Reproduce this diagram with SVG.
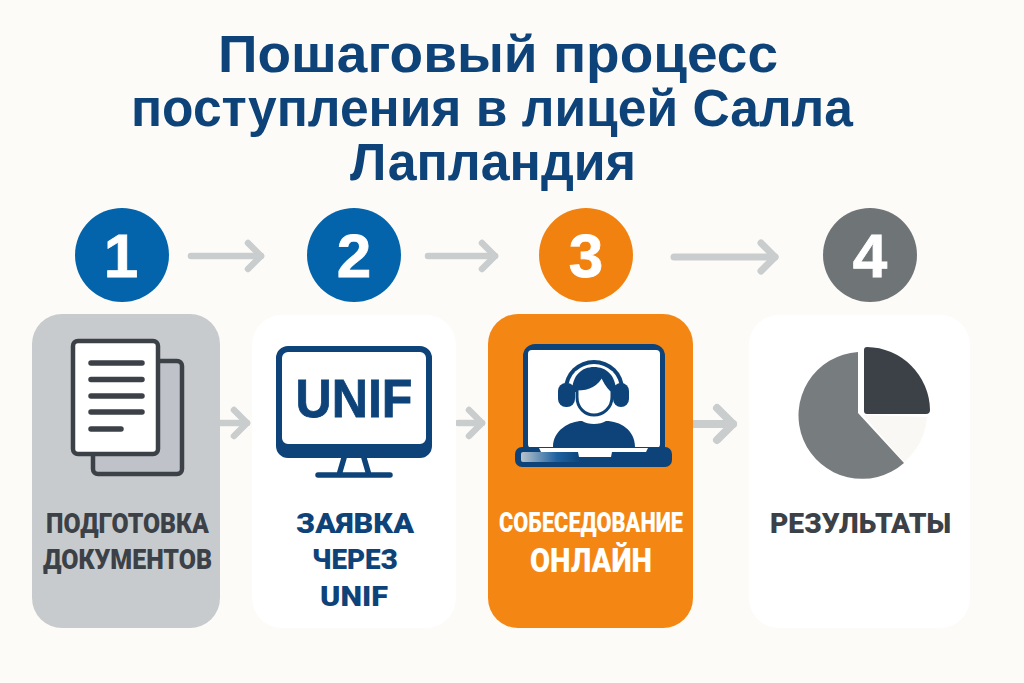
<svg xmlns="http://www.w3.org/2000/svg" width="1024" height="683" viewBox="0 0 1024 683">
<style>
.title{font:bold 51px "Liberation Sans",Arial,sans-serif;fill:#0d4379;text-anchor:middle}
.lab{font-family:Roboto,"Liberation Sans",sans-serif;font-weight:900;text-anchor:middle}
.num{font:bold 62px "Liberation Sans",Arial,sans-serif;fill:#fff;stroke:#fff;stroke-width:.8;text-anchor:middle}
.conn{fill:none;stroke:#c9cdce;stroke-linecap:round;marker-end:url(#ah)}
.navy{fill:#0d4379}.dark{fill:#3c4147}
.ln{stroke:#3c4147;stroke-width:5.5;stroke-linecap:round;fill:none}
</style>
<defs>
<marker id="ah" viewBox="-3 -3 4 6" refX="0" refY="0" markerWidth="4" markerHeight="6" markerUnits="strokeWidth" orient="auto" overflow="visible">
<path d="M-2,-2L0,0L-2,2" fill="none" stroke="#c9cdce" stroke-width="1" stroke-linecap="round" stroke-linejoin="round"/>
</marker>
<linearGradient id="kb" x1="0" x2="1" y1="0" y2="0"><stop offset="0" stop-color="#b9c3cc"/><stop offset=".6" stop-color="#1d62a0"/><stop offset="1" stop-color="#0d4379"/></linearGradient>
</defs>
<rect width="1024" height="683" fill="#fdfbf8"/>
<g id="title">
<text class="title" x="498" y="72" textLength="560" lengthAdjust="spacingAndGlyphs">Пошаговый процесс</text>
<text class="title" x="492" y="126" textLength="722" lengthAdjust="spacingAndGlyphs">поступления в лицей Салла</text>
<text class="title" x="493" y="180" textLength="286" lengthAdjust="spacingAndGlyphs">Лапландия</text>
</g>
<g id="connectors">
<path class="conn" style="stroke-width:6.5" d="M191,256H261"/>
<path class="conn" style="stroke-width:6.5" d="M428,256H495"/>
<path class="conn" style="stroke-width:7" d="M674,257H775"/>
<path class="conn" style="stroke-width:6.5" d="M220,423H247"/>
<path class="conn" style="stroke-width:6.5" d="M458,423H482"/>
<path class="conn" style="stroke-width:8" d="M693,424H733"/>
</g>
<g id="badge-1"><circle cx="122" cy="255" r="47" fill="#0464ab"/><text class="num" x="121" y="277">1</text></g>
<g id="badge-2"><circle cx="354" cy="255" r="47" fill="#0464ab"/><text class="num" x="354" y="277">2</text></g>
<g id="badge-3"><circle cx="586" cy="255" r="47" fill="#f28210"/><text class="num" x="586" y="277">3</text></g>
<g id="badge-4"><circle cx="870" cy="255" r="47" fill="#6f7477"/><text class="num" x="870" y="277">4</text></g>
<g id="step-1">
<rect x="32" y="314" width="188" height="314" rx="30" fill="#c7cbce"/>
<rect x="93" y="361" width="89" height="113" rx="5" fill="#bfc2c8" stroke="#3c4147" stroke-width="4.5"/>
<rect x="73" y="341" width="85" height="113" rx="5" fill="#fff" stroke="#3c4147" stroke-width="4.5"/>
<path class="ln" d="M91,363H142M91,379.5H142M91,396H142M91,412H142M91,429H121"/>
<text class="lab dark" x="127.500" y="533" font-size="28" textLength="163" lengthAdjust="spacingAndGlyphs">ПОДГОТОВКА</text>
<text class="lab dark" x="127.500" y="569" font-size="28" textLength="169" lengthAdjust="spacingAndGlyphs">ДОКУМЕНТОВ</text>
</g>
<g id="step-2">
<rect x="252" y="315" width="204" height="313" rx="30" fill="#fff"/>
<path class="navy" fill-rule="evenodd" d="M288,346H420a12,12 0 0 1 12,12V446a12,12 0 0 1-12,12H288a12,12 0 0 1-12-12V358a12,12 0 0 1 12-12ZM288,352a6,6 0 0 0-6,6V438a6,6 0 0 0 6,6H420a6,6 0 0 0 6-6V358a6,6 0 0 0-6-6Z"/>
<path fill="none" stroke="#0d4379" stroke-width="5.500" stroke-linecap="round" d="M344,458L339,475M364,458L369,475M318,475H390"/>
<text x="354" y="417" font-family="'Liberation Sans',Arial,sans-serif" font-weight="700" font-size="54" fill="#0d4379" stroke="#0d4379" stroke-width=".8" text-anchor="middle" textLength="117" lengthAdjust="spacingAndGlyphs">UNIF</text>
<text class="lab navy" x="355" y="533" font-size="28" textLength="118" lengthAdjust="spacingAndGlyphs">ЗАЯВКА</text>
<text class="lab navy" x="355" y="569" font-size="28" textLength="86" lengthAdjust="spacingAndGlyphs">ЧЕРЕЗ</text>
<text class="lab navy" x="354" y="606" font-size="28" textLength="68" lengthAdjust="spacingAndGlyphs">UNIF</text>
</g>
<g id="step-3">
<rect x="488" y="314" width="205" height="314" rx="30" fill="#f48714"/>
<path class="navy" d="M535,344H653a12,12 0 0 1 12,12V450H523V356a12,12 0 0 1 12-12Z"/>
<rect x="528" y="350" width="132" height="98" rx="4" fill="#fff"/>
<path class="navy" d="M553,447C553,430 570,421 582,421C588,425 600,425 606,421C620,421 635,430 635,447Z"/>
<path class="navy" d="M564,389A30,29 0 0 1 624,389Z"/>
<path fill="#fff" d="M568,389A26,25 0 0 1 620,389Z"/>
<path class="navy" d="M572,392C572,375 582,367 594,367C606,367 616,375 616,392Z"/>
<path d="M577,389C590,389 598,383 602,375C605,384 610,389 612,391V397C612,408 603,415 594,415C585,415 577,408 577,397Z" fill="#fff" stroke="#0d4379" stroke-width="3"/>
<rect x="558" y="383" width="17" height="24" rx="8" class="navy"/><rect x="613" y="383" width="16" height="24" rx="8" class="navy"/>
<rect x="515" y="447" width="157" height="20" rx="7" class="navy"/>
<rect x="521" y="452" width="60" height="10" rx="2" fill="url(#kb)"/>
<path fill="#fff" d="M539,448H648L646,452H612L611,457H579L578,452H541Z"/>
<text class="lab" x="591" y="532" font-size="28" fill="#fff" textLength="184" lengthAdjust="spacingAndGlyphs">СОБЕСЕДОВАНИЕ</text>
<text class="lab" x="591" y="572" font-size="34" fill="#fff" textLength="122" lengthAdjust="spacingAndGlyphs">ОНЛАЙН</text>
</g>
<g id="step-4">
<rect x="749" y="315" width="221" height="313" rx="30" fill="#fff"/>
<path fill="#faf8f4" d="M863,415L927,417A66,66 0 0 1 904,462Z"/>
<path fill="#777c7f" d="M858,352V413L904,463A63.500,63.500 0 1 1 858,352Z"/>
<path class="dark" d="M864,350Q864,347 867,347A64,64 0 0 1 930,410Q930,414 926,414H867Q864,414 864,411Z"/>
<text class="lab dark" x="860.500" y="533" font-size="28" textLength="181" lengthAdjust="spacingAndGlyphs">РЕЗУЛЬТАТЫ</text>
</g>
</svg>
